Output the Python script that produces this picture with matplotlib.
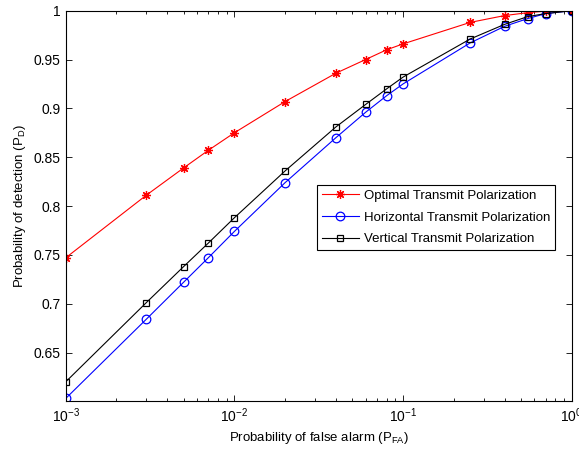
import matplotlib
matplotlib.use("Agg")
import matplotlib.pyplot as plt
from matplotlib.ticker import LogLocator, NullFormatter, FixedLocator

plt.rcParams['font.family'] = ['Liberation Sans', 'DejaVu Sans']
plt.rcParams['mathtext.fontset'] = 'custom'
plt.rcParams['mathtext.rm'] = 'Liberation Sans'
plt.rcParams['mathtext.it'] = 'Liberation Sans'

pfa = [1e-3, 3e-3, 5e-3, 7e-3, 1e-2, 2e-2, 4e-2, 6e-2, 8e-2, 0.1, 0.25, 0.4, 0.55, 0.7, 1.0]
pd_optimal = [0.747, 0.811, 0.839, 0.857, 0.875, 0.907, 0.936, 0.950, 0.960, 0.966, 0.988, 0.995, 0.998, 0.9995, 1.0]
pd_horizontal = [0.603, 0.684, 0.722, 0.747, 0.774, 0.824, 0.870, 0.896, 0.913, 0.925, 0.967, 0.984, 0.992, 0.997, 1.0]
pd_vertical = [0.620, 0.701, 0.738, 0.762, 0.788, 0.836, 0.881, 0.904, 0.920, 0.932, 0.971, 0.986, 0.994, 0.997, 1.0]

labels = ['Optimal Transmit Polarization', 'Horizontal Transmit Polarization', 'Vertical Transmit Polarization']
yticks = [0.65, 0.7, 0.75, 0.8, 0.85, 0.9, 0.95, 1.0]
yticklabels = ['0.65', '0.7', '0.75', '0.8', '0.85', '0.9', '0.95', '1']

fig = plt.figure(figsize=(5.79, 4.51), dpi=100)
ax = fig.add_axes([0.1135, 0.110, 0.8739, 0.8663])

ax.plot(pfa, pd_optimal, color='red', lw=0.8, marker=(8, 2, 0), ms=6.5, mew=0.9, label=labels[0])
ax.plot(pfa, pd_horizontal, color='blue', lw=0.8, marker='o', ms=6.2, mfc='none', mew=0.9, label=labels[1])
ax.plot(pfa, pd_vertical, color='black', lw=0.8, marker='s', ms=5, mfc='none', mew=0.9, label=labels[2])

ax.set_xscale('log')
ax.set_xlim(1e-3, 1)
ax.set_ylim(0.6, 1.0)
ax.yaxis.set_major_locator(FixedLocator(yticks))
ax.set_yticklabels(yticklabels)
ax.xaxis.set_minor_locator(LogLocator(base=10, subs=range(2, 10), numticks=20))
ax.xaxis.set_minor_formatter(NullFormatter())

ax.tick_params(which='both', direction='in', top=True, right=True, labelsize=10, width=0.6)
ax.tick_params(which='major', length=4)
ax.tick_params(which='minor', length=2)
for s in ax.spines.values():
    s.set_linewidth(0.8)

ax.set_xlabel('Probability of false alarm (P$_{\\mathregular{FA}}$)', fontsize=9.5)
ax.set_ylabel('Probability of detection (P$_{\\mathregular{D}}$)', fontsize=9.5)

leg = ax.legend(loc='upper left', bbox_to_anchor=(0.497, 0.554), fontsize=9.5, frameon=True,
                fancybox=False, edgecolor='black', framealpha=1, borderpad=0.35,
                handlelength=2.8, labelspacing=0.72, handletextpad=0.4, borderaxespad=0,
                markerscale=1.0)
leg.get_frame().set_linewidth(0.8)

fig.savefig('out.png', dpi=100)
